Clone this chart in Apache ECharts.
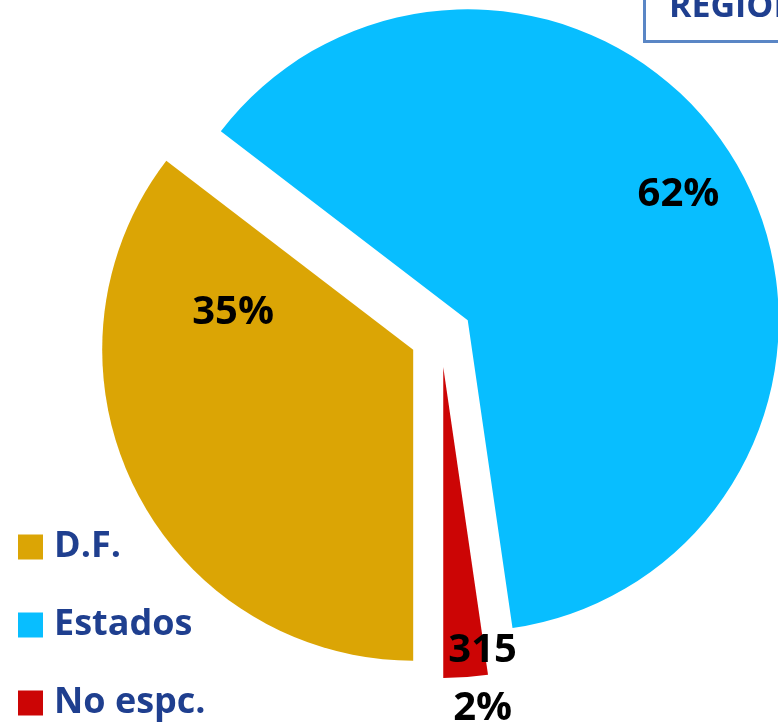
<!DOCTYPE html>
<html>
<head>
<meta charset="utf-8">
<script src="https://cdn.jsdelivr.net/npm/echarts@6/dist/echarts.min.js"></script>
<style>
html,body{margin:0;padding:0;background:#fff;}
#chart{width:778px;height:726px;}
</style>
</head>
<body>
<div id="chart"></div>
<script>
// ---- data ----
const categories = ['D.F.', 'Estados', 'No espc.'];
const counts = [4850, 8535, 315];
const showCount = [false, false, true];
const titleText = 'REGIÓN';

// ---- styles ----
const colors = ['#DBA505', '#08BEFF', '#CC0505'];
const labelShift = [[-38, -107], [74, -45], [28, 155]];
const FONT = '"Open Sans", "Noto Sans", sans-serif';

const chart = echarts.init(document.getElementById('chart'), null, {renderer: 'canvas'});
chart.setOption({
  animation: false,
  color: colors,
  title: {
    text: titleText,
    left: 644,
    top: -23,
    padding: [10, 30, 15, 25],
    borderColor: '#5A86C5',
    borderWidth: 3,
    textStyle: {fontFamily: FONT, fontSize: 34, fontWeight: 'bold', color: '#1F3F8F', lineHeight: 40}
  },
  legend: {
    orient: 'vertical',
    left: 18,
    top: 529,
    height: 300,
    padding: 0,
    itemWidth: 25,
    itemHeight: 25,
    itemGap: 42,
    icon: 'rect',
    selectedMode: false,
    data: categories,
    textStyle: {fontFamily: FONT, fontSize: 36, fontWeight: 'bold', color: '#1F3F8F', lineHeight: 31, padding: [0, 0, 0, 6]}
  },
  series: [{
    type: 'pie',
    center: [441, 336],
    radius: [0, 311],
    startAngle: 270,
    clockwise: true,
    selectedMode: 'multiple',
    selectedOffset: 31,
    emphasis: {disabled: true},
    label: {
      show: true,
      position: 'inside',
      fontFamily: FONT,
      fontSize: 40,
      fontWeight: 'bold',
      color: '#000',
      lineHeight: 58,
      formatter: function (p) {
        const pct = Math.round(p.percent) + '%';
        return showCount[p.dataIndex] ? p.value + '\n' + pct : pct;
      }
    },
    labelLine: {show: false},
    labelLayout: function (p) {
      return {dx: labelShift[p.dataIndex][0], dy: labelShift[p.dataIndex][1]};
    },
    data: categories.map(function (c, i) {
      return {name: c, value: counts[i], selected: true};
    })
  }]
});
</script>
</body>
</html>
